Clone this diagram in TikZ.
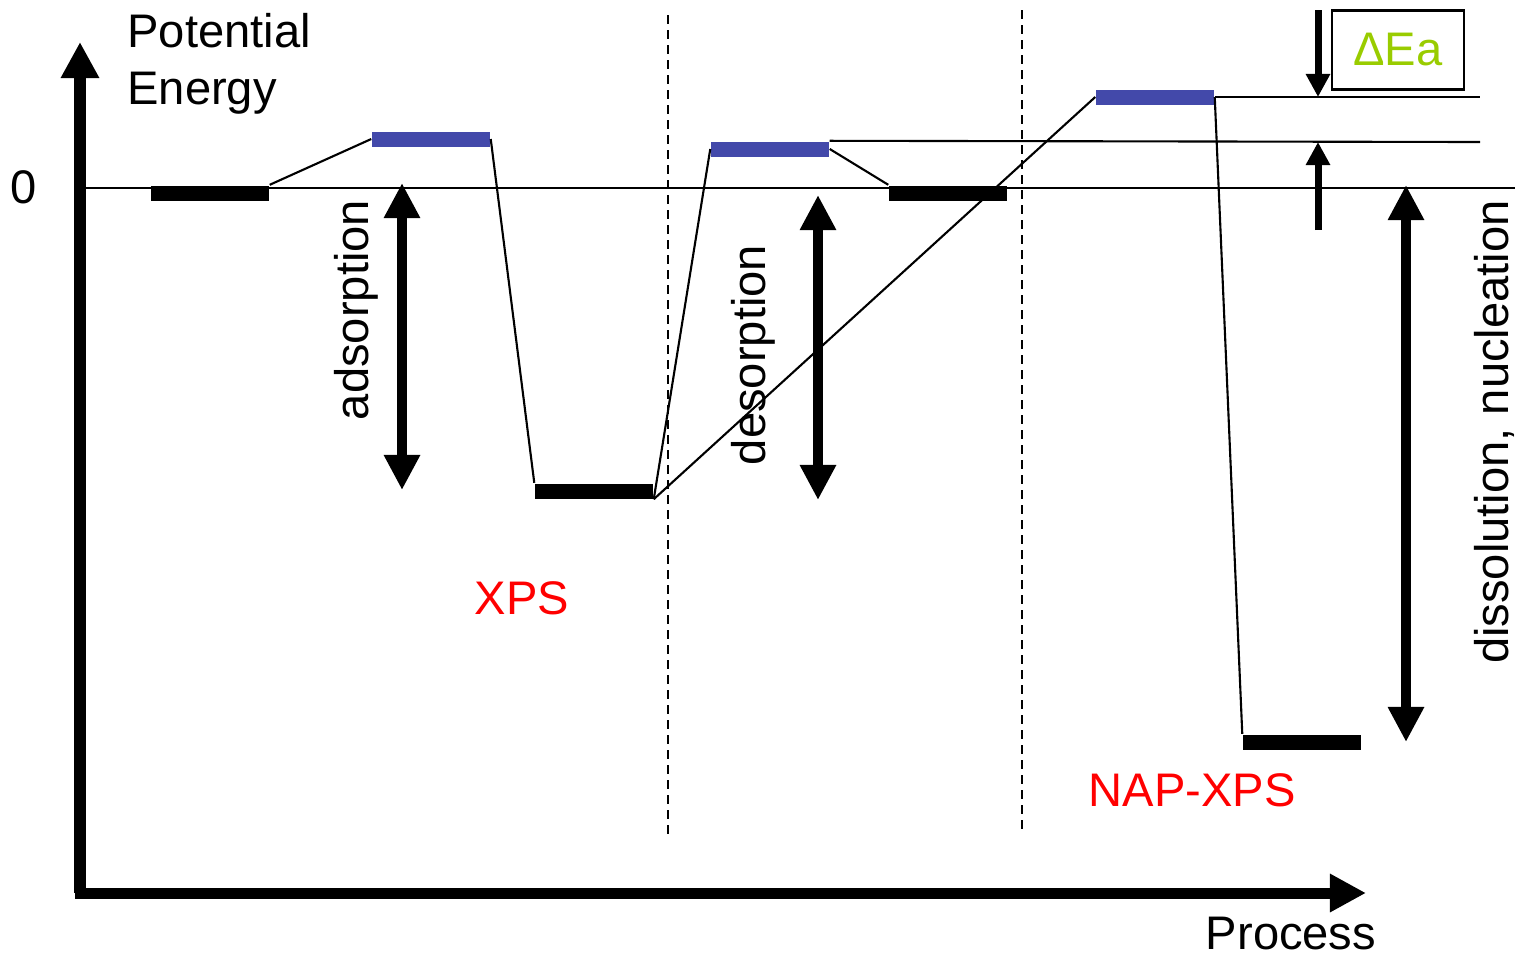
\documentclass[tikz,border=0pt]{standalone}
\usepackage{fontspec}
\setmainfont{Liberation Sans}
\usetikzlibrary{arrows.meta}
\definecolor{barblue}{RGB}{67,73,170}
\definecolor{eagreen}{RGB}{153,204,0}

\begin{document}
\begin{tikzpicture}[x=0.01cm,y=-0.01cm,font=\fontsize{13.4}{16.2}\selectfont,
  lvl/.style={fill=black,minimum width=1.18cm,minimum height=0.15cm,inner sep=0pt},
  tsbar/.style={lvl,fill=barblue},
  link/.style={line width=0.6pt},
  guide/.style={line width=0.5pt,dash pattern=on 0.09cm off 0.06cm},
  axisline/.style={line width=0.11cm,-{Triangle[length=0.36cm,width=0.36cm]}},
  span/.style={line width=0.1cm,{Triangle[length=0.35cm,width=0.34cm]}-{Triangle[length=0.35cm,width=0.34cm]}},
  small/.style={line width=0.07cm,-{Triangle[length=0.23cm,width=0.23cm]}}]
\useasboundingbox (0,0) rectangle (1515,954);
% axes
\coordinate (origin) at (80,893);
\draw[axisline] (origin) -- (80,42);
\draw[axisline] (75,893) -- (1366,893);
\node[anchor=base west,align=left] (ylab) at (115,104) {Potential\\Energy};
\node[anchor=base] (xlab) at (1291,949) {Process};
\node[anchor=base] (zero) at (24,203) {0};
\draw[line width=0.6pt] (86,188) -- (1515,188);
% separators
\draw[guide] (668,15) -- (668,835);
\draw[guide] (1022,10) -- (1022,830);
% energy levels
\node[lvl] (ini) at (210,193) {};
\node[tsbar] (ts1) at (431,139) {};
\node[lvl] (ads) at (594,491) {};
\node[tsbar] (ts2) at (770,149) {};
\node[lvl] (mid) at (948,193) {};
\node[tsbar] (ts3) at (1155,97) {};
\node[lvl] (fin) at (1302,742) {};
\coordinate (ts2r) at (1480,142);
\coordinate (ts3r) at (1480,97);
\draw[link] (ini.north east) -- (ts1.west);
\draw[link] (ts1.east) -- (ads.north west);
\draw[link] (ads.south east) -- (ts2.west);
\draw[link] (ads.south east) -- (ts3.west);
\draw[link] (ts2.east) -- (mid.north west);
\draw[link] (ts2.north east) -- (ts2r);
\draw[link] (ts3.east) -- (ts3r);
\draw[link] (ts3.east) -- (fin.north west);
% steps
\draw[span] (402,183) -- (402,490);
\node[rotate=90] (adslab) at (356,310) {adsorption};
\draw[span] (818,195) -- (818,500);
\node[rotate=90] (deslab) at (753,355) {desorption};
\draw[span] (1406,185) -- (1406,742);
\node[rotate=90] (nuclab) at (1494,432) {dissolution, nucleation};
% barrier difference
\coordinate (eatop) at (1318,10);
\coordinate (eabot) at (1318,230);
\draw[small] (eatop) -- (eatop |- ts3r);
\draw[small] (eabot) -- (eabot |- ts2r);
\node[draw,line width=0.8pt,minimum width=1.32cm,minimum height=0.79cm,text=eagreen] (ea) at (1398,50) {ΔEa};
\node[text=red] (xps) at (522,598) {XPS};
\node[text=red] (napxps) at (1192,790) {NAP-XPS};
\end{tikzpicture}
\end{document}
